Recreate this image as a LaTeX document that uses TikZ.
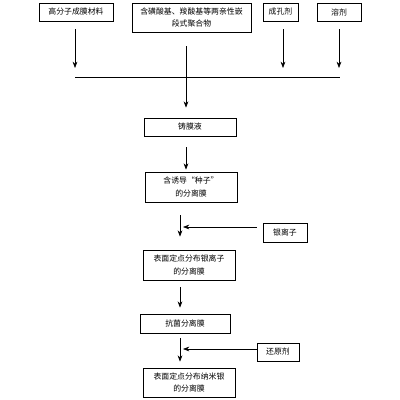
\documentclass[tikz,border=0pt]{standalone}
\usepackage{fontspec}
\setmainfont{Noto Sans CJK SC}
\usetikzlibrary{arrows.meta}

\begin{document}
\begin{tikzpicture}[x=0.025cm, y=-0.025cm,
	box/.style={shape=rectangle, draw, line width=0.5pt, inner sep=0pt, align=center, font=\fontsize{5.6}{9}\selectfont},
	arr/.style={line width=0.5pt, -{Stealth[length=4.5pt, width=3.4pt]}},
	wire/.style={line width=0.5pt}]
	\useasboundingbox (0, 0) rectangle (400, 400);
	% Nodes:
	\node[box, minimum width=1.85cm, minimum height=0.45cm] (mat) at (76, 12){高分子成膜材料};
	\node[box, minimum width=2.975cm, minimum height=0.725cm] (poly) at (191.5, 17.5){含磺酸基、羧酸基等两亲性嵌\\段式聚合物};
	\node[box, minimum width=0.875cm, minimum height=0.45cm] (pore) at (280.5, 12){成孔剂};
	\node[box, minimum width=1.1cm, minimum height=0.45cm] (solv) at (339, 12){溶剂};
	\node[box, minimum width=2.3cm, minimum height=0.45cm] (cast) at (190, 127){铸膜液};
	\node[box, minimum width=2.3cm, minimum height=0.75cm] (seed) at (191, 187){含诱导“种子”\\的分离膜};
	\node[box, minimum width=1.1cm, minimum height=0.475cm] (ag) at (285, 232.5){银离子};
	\node[box, minimum width=2.3cm, minimum height=0.75cm] (agm) at (189, 265){表面定点分布银离子\\的分离膜};
	\node[box, minimum width=2.25cm, minimum height=0.475cm] (anti) at (185, 323.5){抗菌分离膜};
	\node[box, minimum width=1.05cm, minimum height=0.45cm] (red) at (278, 352){还原剂};
	\node[box, minimum width=2.3cm, minimum height=0.725cm] (nano) at (189, 382.5){表面定点分布纳米银\\的分离膜};
	\coordinate (busL) at (75, 77);
	\coordinate (busM) at (186, 77);
	\coordinate (busP) at (283, 77);
	\coordinate (busR) at (340, 77);
	\coordinate (agin) at (180, 227);
	\coordinate (redin) at (180, 349);
	% Paths and arrows:
	\draw[arr, shorten <=0.2cm, shorten >=0.225cm] (busL |- mat.south) -- (busL);
	\draw[wire, shorten <=0.35cm] (busM |- poly.south) -- (busM);
	\draw[arr, shorten <=0.2cm, shorten >=0.225cm] (busP |- pore.south) -- (busP);
	\draw[arr, shorten <=0.2cm, shorten >=0.225cm] (solv.south) -- (solv.south |- busR);
	\draw[wire] (busL) -- (busR);
	\draw[arr, shorten >=0.25cm] (busM) -- (busM |- cast.north);
	\draw[arr, shorten <=0.275cm, shorten >=0.05cm] (busM |- cast.south) -- (busM |- seed.north);
	\draw[arr, shorten <=0.325cm, shorten >=0.325cm] (agin |- seed.south) -- (agin |- agm.north);
	\draw[arr, shorten <=0.15cm, shorten >=0.075cm] (ag.west |- agin) -- (agin);
	\draw[arr, shorten <=0.175cm, shorten >=0.15cm] (agin |- agm.south) -- (agin |- anti.north);
	\draw[arr, shorten <=0.125cm, shorten >=0.15cm] (redin |- anti.south) -- (redin |- nano.north);
	\draw[arr, shorten >=0.075cm] (red.west |- redin) -- (redin);
\end{tikzpicture}
\end{document}
